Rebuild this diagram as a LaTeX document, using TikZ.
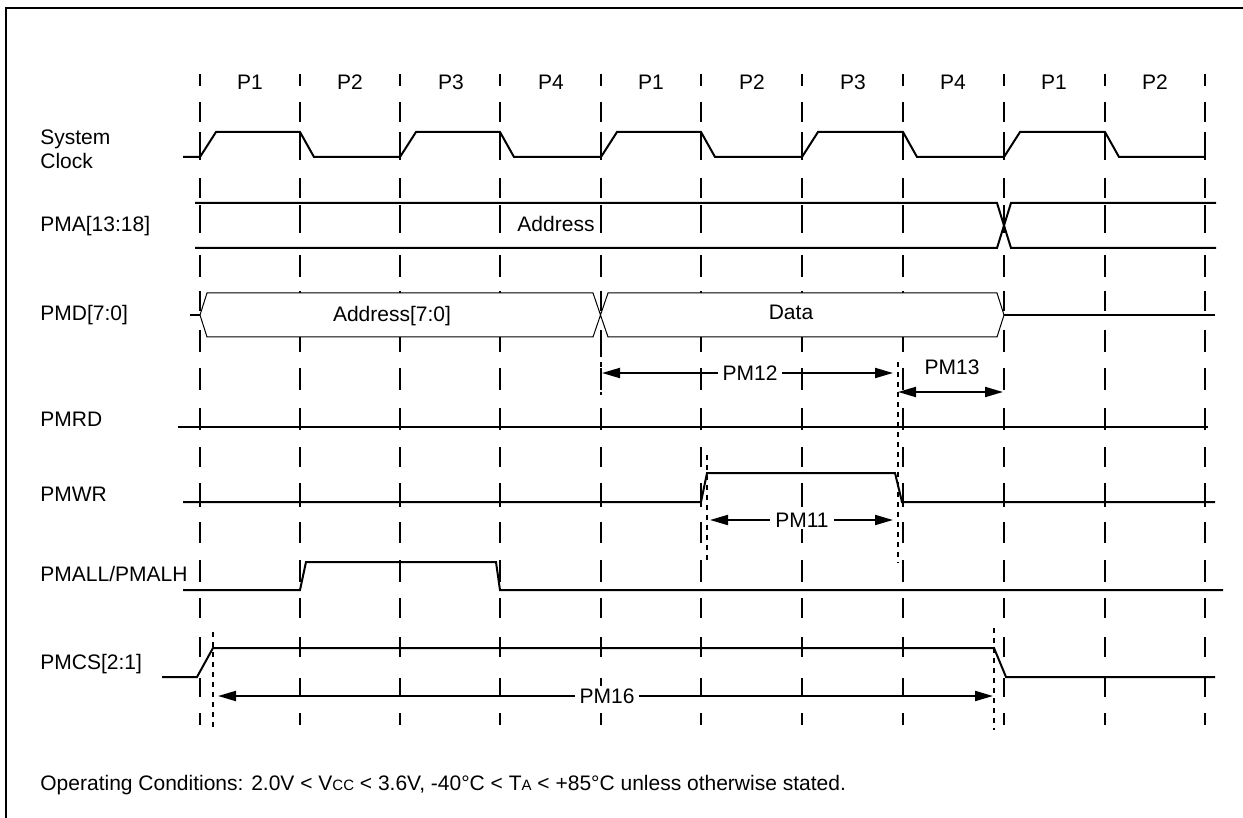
\documentclass[tikz,border=0pt]{standalone}
\usepackage{fontspec}
\setmainfont{Liberation Sans}
\usepackage{tikz}
\usetikzlibrary{arrows.meta}

\begin{document}
\begin{tikzpicture}[
  x=0.5pt,y=-0.5pt,
  font=\fontsize{10.5}{11.5}\selectfont,
  sig/.style={line width=1pt},
  bus/.style={line width=0.5pt,fill=white},
  gridline/.style={line width=1.3pt},
  tmark/.style={line width=1pt,dash pattern=on 2.5pt off 2.5pt},
  lbl/.style={anchor=base west,inner sep=0pt,align=left},
  txt/.style={anchor=base,inner sep=0pt},
  tag/.style={anchor=base,fill=white,inner xsep=2.5pt,inner ysep=1pt},
  dim/.style={{Triangle[length=9pt,width=5pt]}-{Triangle[length=9pt,width=5pt]},line width=1pt}]
\useasboundingbox (0,0) rectangle (1243,818);
\draw[line width=1.2pt] (6,818) -- (6,8) -- (1243,8);
% phase grid
\foreach \x in {200,300,400,500,601,701,802,903,1004,1105,1205}
  \foreach \a/\b in {74/86,102/122,132/160,178/198,205/233,255/277,291/311,330/352,368/390,
                     408/430,447/467,483/507,522/543,560/582,598/618,637/657,678/697,713/725}
    \draw[gridline] (\x,\a) -- (\x,\b);
\foreach \x/\p [count=\i] in {250/P1,350/P2,451/P3,551/P4,651/P1,752/P2,853/P3,953/P4,1054/P1,1155/P2}
  \node[txt] (ph\i) at (\x,90) {\p};
% signal names
\node[lbl] (clk) at (40,145) {System};
\node[lbl] (clk2) at (40,169) {Clock};
\node[lbl] (pma) at (40,232) {PMA[13:18]};
\node[lbl] (pmd) at (40,321) {PMD[7:0]};
\node[lbl] (pmrd) at (40,426) {PMRD};
\node[lbl] (pmwr) at (40,501) {PMWR};
\node[lbl] (pmal) at (40,581) {PMALL/PMALH};
\node[lbl] (pmcs) at (40,669) {PMCS[2:1]};
% waveforms
\draw[sig] (183,157) \foreach \r/\f in {200/300,400/500,601/701,802/903,1004/1105}
  { -- (\r,157) -- (\r+16,132) -- (\f,132) -- (\f+14,157) } -- (1205,157);
\draw[sig] (195,203) -- (997,203) -- (1011,248) -- (1216,248);
\draw[sig] (195,248) -- (997,248) -- (1011,203) -- (1216,203);
\draw[sig] (190,315) -- (200,315);
\draw[bus] (200,315) -- (207,293) -- (593,293) -- (608,337) -- (997,337) -- (1004,315)
  -- (997,293) -- (608,293) -- (593,337) -- (207,337) -- cycle;
\draw[sig] (1004,315) -- (1215,315);
\draw[sig] (178,427) -- (1208,427);
\draw[sig] (183,502) -- (701,502) -- (707,473) -- (895,473) -- (902,502) -- (1215,502);
\draw[sig] (183,590) -- (300,590) -- (306,562) -- (496,562) -- (500,590) -- (1223,590);
\draw[sig] (162,677) -- (197,677) -- (213,648) -- (994,648) -- (1006,677) -- (1215,677);
\node[txt] (addr) at (556,232) {Address};
\node[txt] (addrlo) at (392,322) {Address[7:0]};
\node[txt] (data) at (791,320) {Data};
% timing marks
\draw[tmark] (601,352) -- (601,395);
\draw[tmark] (898,362) -- (898,563);
\draw[tmark] (707,455) -- (707,563);
\draw[tmark] (213,632) -- (213,730);
\draw[tmark] (994,628) -- (994,730);
\coordinate (pm12a) at (602,373); \coordinate (pm12b) at (893,373);
\coordinate (pm13a) at (898,392); \coordinate (pm13b) at (1003,392);
\coordinate (pm11a) at (710,520); \coordinate (pm11b) at (893,520);
\coordinate (pm16a) at (218,696); \coordinate (pm16b) at (993,696);
\draw[dim] (pm12a) -- (pm12b);
\draw[dim] (pm13a) -- (pm13b);
\draw[dim] (pm11a) -- (pm11b);
\draw[dim] (pm16a) -- (pm16b);
\node[tag] (pm12) at (750,380) {PM12};
\node[txt] (pm13) at (952,375) {PM13};
\node[tag] (pm11) at (802,527) {PM11};
\node[tag] (pm16) at (607,703) {PM16};
\node[lbl] (note) at (40,790) {Operating Conditions: 2.0V < V{\fontsize{7.5}{9}\selectfont CC} < 3.6V,
  -40°C < T{\fontsize{7.5}{9}\selectfont A} < +85°C unless otherwise stated.};
\end{tikzpicture}
\end{document}
